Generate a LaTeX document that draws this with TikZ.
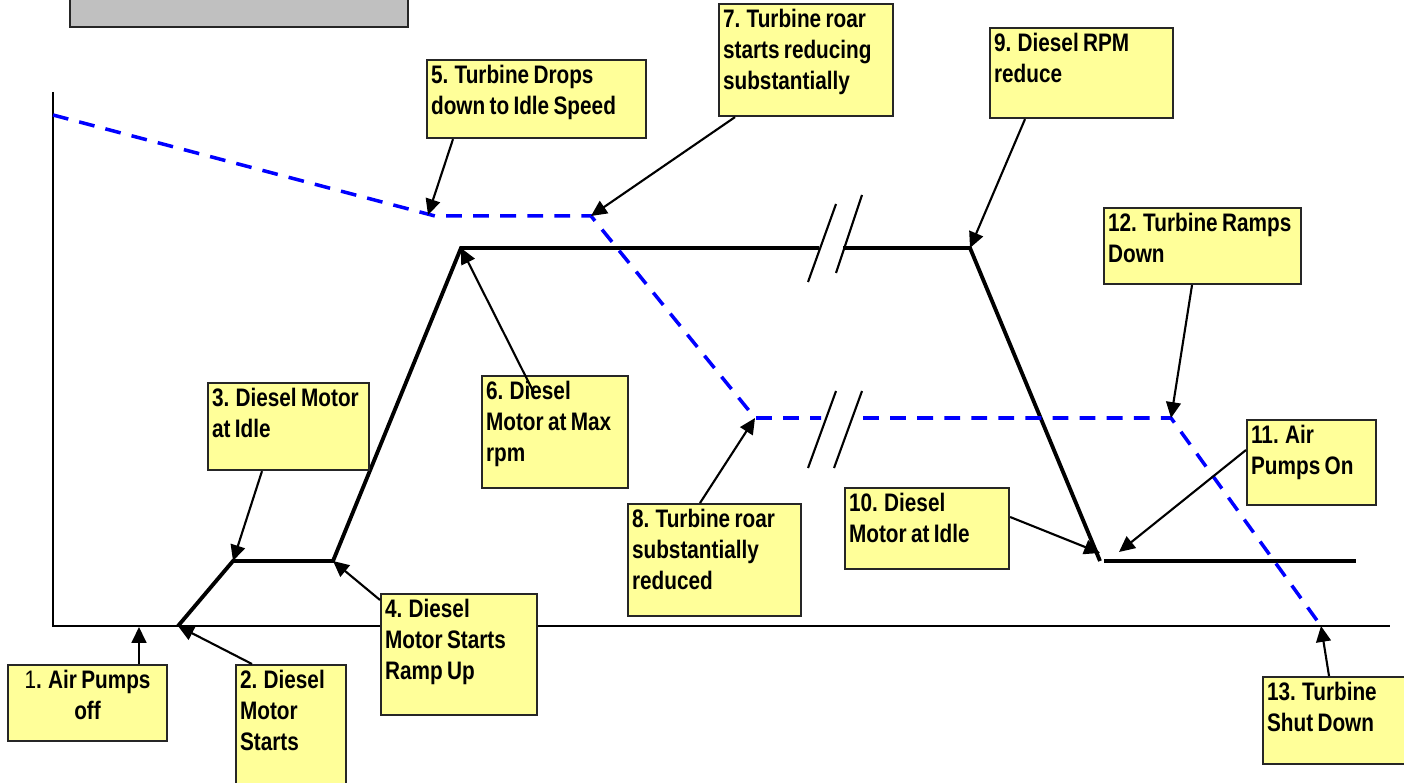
\documentclass[tikz,border=0pt]{standalone}
\usepackage{fontspec}
\newfontfamily\notefont[FakeStretch=0.82, WordSpace=0.75]{Liberation Sans}
\usetikzlibrary{arrows.meta}
\newlength{\px}
\setlength{\px}{0.01cm}
\definecolor{noteyellow}{HTML}{FFFF99}
\definecolor{titlegray}{HTML}{C0C0C0}
% text of a note box: [alignment]{width}{height}{lines}
\newcommand{\notetext}[4][l]{\parbox[c][#3\px][t]{#2\px}{\vspace{2\px}\if c#1\centering\fi\begin{tabular}{@{}#1@{}}#4\end{tabular}}}
\tikzset{
    note/.style={
        draw=black!85,
        line width=0.6pt,
        fill=noteyellow,
        anchor=north west,
        inner xsep=4\px,
        inner ysep=0pt,
        font=\notefont\bfseries\fontsize{7.2}{8.8}\selectfont
    },
    pointer/.style={
        -{Triangle[length=4.5pt, width=4.2pt]},
        line width=0.6pt
    },
    diesel/.style={line width=1.1pt},
    turbine/.style={blue, line width=1pt, dash pattern=on 4.5pt off 3.2pt},
    axis/.style={line width=0.6pt},
    breakmark/.style={line width=0.6pt}
}

\begin{document}
\begin{tikzpicture}[x=0.01cm, y=-0.01cm]
    \useasboundingbox (0,0) rectangle (1404,783);

    % Title box, cut off at the top
    \draw[line width=0.8pt, draw=black!85, fill=titlegray] (70,-10) rectangle (408,27);

    % Axes
    \coordinate (origin) at (53,626);
    \coordinate (ytop) at (53,92);
    \coordinate (xend) at (1390,626);
    \draw[axis] (ytop) -- (origin) -- (xend);

    % Diesel motor speed
    \coordinate (d0) at (178,626);
    \coordinate (d1) at (233,561);
    \coordinate (d2) at (333,561);
    \coordinate (d3) at (461,248);
    \coordinate (d4) at (819,248);
    \coordinate (d5) at (843,248);
    \coordinate (d6) at (970,248);
    \coordinate (d7) at (1100,561);
    \coordinate (d8) at (1104,561);
    \coordinate (d9) at (1356,561);
    \draw[diesel] (d0) -- (d1) -- (d2) -- (d3) -- (d4);
    \draw[diesel] (d5) -- (d6) -- (d7);
    \draw[diesel] (d8) -- (d9);

    % Turbine speed
    \coordinate (t0) at (53,115);
    \coordinate (t1) at (435,216);
    \coordinate (t2) at (591,216);
    \coordinate (t3) at (755,418);
    \coordinate (t4) at (821,418);
    \coordinate (t5) at (863,418);
    \coordinate (t6) at (1171,418);
    \coordinate (t7) at (1321,626);
    \draw[turbine] (t0) -- (t1) -- (t2) -- (t3) -- (t4);
    \draw[turbine] (t5) -- (t6) -- (t7);

    % Time breaks
    \draw[breakmark] (808,282) -- (836,204);
    \draw[breakmark] (836,273) -- (862,195);
    \draw[breakmark] (808,468) -- (836,391);
    \draw[breakmark] (834,468) -- (862,391);

    % Notes
    \node[note] (n1) at (7,664) {\notetext[c]{151}{76}{{\mdseries 1}. Air Pumps\\off}};
    \node[note] (n2) at (235,664) {\notetext{102}{125}{2. Diesel\\Motor\\Starts}};
    \node[note] (n3) at (207,382) {\notetext{153}{87}{3. Diesel Motor\\at Idle}};
    \node[note] (n4) at (380,593) {\notetext{148}{121}{4. Diesel\\Motor Starts\\Ramp Up}};
    \node[note] (n5) at (426,59) {\notetext{211}{78}{5. Turbine Drops\\down to Idle Speed}};
    \node[note] (n6) at (481,375) {\notetext{138}{112}{6. Diesel\\Motor at Max\\rpm}};
    \node[note] (n7) at (718,3) {\notetext{166}{112}{7. Turbine roar\\starts reducing\\substantially}};
    \node[note] (n8) at (627,503) {\notetext{165}{112}{8. Turbine roar\\substantially\\reduced}};
    \node[note] (n9) at (989,27) {\notetext{175}{90}{9. Diesel RPM\\reduce}};
    \node[note] (n10) at (844,487) {\notetext{156}{81}{10. Diesel\\Motor at Idle}};
    \node[note] (n11) at (1246,419) {\notetext{121}{85}{11. Air\\Pumps On}};
    \node[note] (n12) at (1103,207) {\notetext{189}{76}{12. Turbine Ramps\\Down}};
    \node[note] (n13) at (1262,676) {\notetext{142}{87}{13. Turbine\\Shut Down}};

    % Pointers
    \coordinate (p1) at (139,627);
    \coordinate (p5) at (428,215);
    \coordinate (p10) at (1100,553);
    \coordinate (p11) at (1119,552);
    \draw[pointer] ([xshift=132\px]n1.north west) -- (p1);
    \draw[pointer] ([xshift=17\px]n2.north west) -- (d0);
    \draw[pointer] ([xshift=55\px]n3.south west) -- (d1);
    \draw[pointer] ([yshift=-7\px]n4.north west) -- (d2);
    \draw[pointer] ([xshift=27\px]n5.south west) -- (p5);
    \draw[pointer] ([xshift=52\px,yshift=-16\px]n6.north west) -- (d3);
    \draw[pointer] ([xshift=17\px]n7.south west) -- (t2);
    \draw[pointer] ([xshift=73\px]n8.north west) -- (t3);
    \draw[pointer] ([xshift=36\px]n9.south west) -- (d6);
    \draw[pointer] ([yshift=-30\px]n10.north east) -- (p10);
    \draw[pointer] ([yshift=-31\px]n11.north west) -- (p11);
    \draw[pointer] ([xshift=89\px]n12.south west) -- (t6);
    \draw[pointer] ([xshift=67\px]n13.north west) -- (t7);
\end{tikzpicture}
\end{document}
